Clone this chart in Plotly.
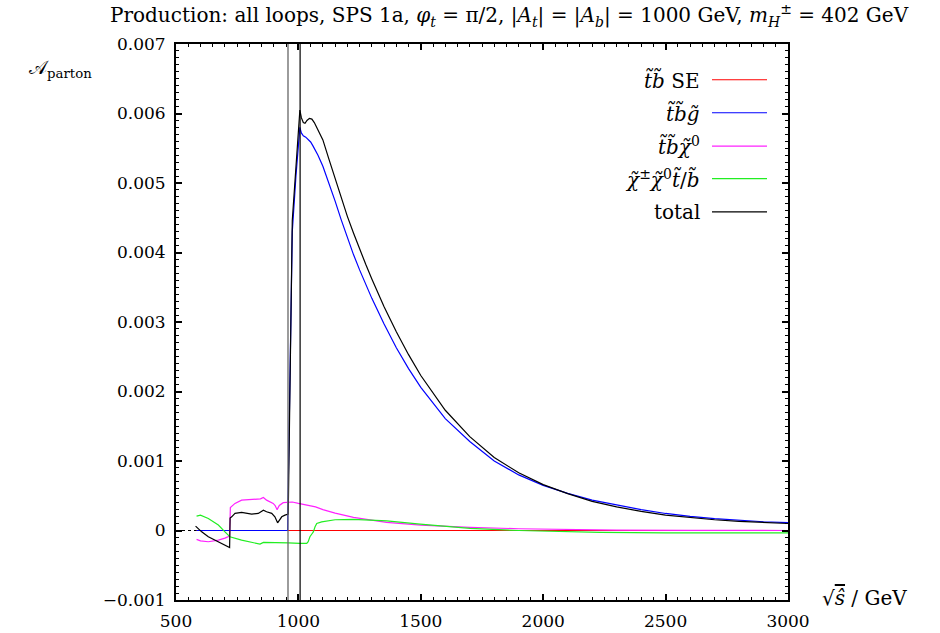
import plotly.graph_objects as go

# ---------------- data ----------------
thr1 = 957.5   # first threshold line (GeV)
thr2 = 1007.0  # second threshold line (GeV)

s_red = [584, 3000]
a_red = [0.0, 0.0]

s_blue = [584, 956, 957, 975, 990, 1006, 1012, 1020, 1030, 1040, 1050, 1060, 1080, 1100,
          1125, 1150, 1175, 1200, 1225, 1250, 1275, 1300, 1350, 1400, 1450, 1500, 1600,
          1700, 1800, 1900, 2000, 2100, 2200, 2300, 2400, 2500, 2600, 2700, 2800, 2900, 3000]
a_blue = [0.0, 0.0, 0.0003, 0.0043, 0.0051, 0.00580, 0.00572, 0.00568, 0.00566, 0.00563,
          0.00559, 0.00553, 0.00540, 0.00524, 0.00500, 0.00474, 0.00447, 0.00421, 0.00397,
          0.00375, 0.00354, 0.00334, 0.00297, 0.00263, 0.00233, 0.00206, 0.00161, 0.00128,
          0.00100, 0.00080, 0.00065, 0.000535, 0.000438, 0.000364, 0.000300, 0.000245,
          0.000202, 0.000170, 0.000145, 0.000126, 0.000112]

s_mag = [584, 600, 632, 673, 700, 713, 719, 722, 741, 768, 800, 823, 845, 857, 870, 897,
         905, 913, 922, 938, 958, 975, 1000, 1040, 1070, 1100, 1150, 1225, 1300, 1360,
         1500, 1700, 1900, 2100, 2300, 2600, 3000]
a_mag = [-0.000128, -0.00015, -0.000162, -0.000138, -0.00011, -0.00009, -0.00008, 0.00033,
         0.00039, 0.000437, 0.000445, 0.000447, 0.000455, 0.000476, 0.000437, 0.00039,
         0.00036, 0.0003, 0.00036, 0.0004, 0.000408, 0.00041, 0.00039, 0.00036, 0.00034,
         0.0003, 0.00025, 0.00019, 0.00015, 0.000118, 0.000078, 0.000045, 0.000025,
         0.000012, 0.000005, 0.000002, 0.0]

s_grn = [584, 600, 632, 673, 700, 720, 768, 822, 843, 857, 904, 958, 1006, 1034, 1040,
         1047, 1055, 1061, 1068, 1075, 1095, 1129, 1150, 1224, 1361, 1497, 1701, 1900,
         2100, 2232, 2500, 3000]
a_grn = [0.000207, 0.000221, 0.000174, 0.000078, -0.00002, -0.00009, -0.000138, -0.000186,
         -0.000196, -0.000171, -0.000171, -0.000177, -0.000186, -0.000186, -0.00016,
         -0.00009, -0.00005, -0.00002, 0.000053, 0.0001, 0.000125, 0.00015, 0.000155,
         0.00016, 0.000139, 0.000092, 0.00003, 0.0, -0.00002, -0.000028, -0.000033,
         -0.000035]

s_tot = [580, 605, 632, 659, 687, 714, 719, 721, 727.5, 741, 768, 809, 836, 857, 870, 891,
         904, 915, 932, 945, 958.5, 975, 990, 1006, 1012, 1020, 1027, 1035, 1045, 1055,
         1065, 1080, 1100, 1125, 1150, 1175, 1200, 1225, 1250, 1275, 1300, 1350, 1400,
         1450, 1500, 1600, 1700, 1800, 1900, 2000, 2100, 2200, 2300, 2400, 2500, 2600,
         2700, 2800, 2900, 3000]
a_tot = [0.000063, -0.000019, -0.00009, -0.000138, -0.000186, -0.000243, -0.000245,
         0.00018, 0.000197, 0.000246, 0.00026, 0.000236, 0.000246, 0.000293, 0.000269,
         0.000246, 0.000197, 0.000111, 0.000197, 0.000221, 0.000236, 0.00446, 0.0053,
         0.00605, 0.00594, 0.00587, 0.00586, 0.00590, 0.00593, 0.00592, 0.00587, 0.00577,
         0.00562, 0.00534, 0.00506, 0.00478, 0.00452, 0.00428, 0.00405, 0.00383, 0.00362,
         0.00322, 0.00286, 0.00253, 0.00223, 0.00173, 0.00135, 0.00105, 0.00083, 0.00066,
         0.00053, 0.00042, 0.00034, 0.000275, 0.000222, 0.000184, 0.000155, 0.000132,
         0.000115, 0.000101]

x_ticks = [500, 1000, 1500, 2000, 2500, 3000]
y_ticks = [-0.001, 0, 0.001, 0.002, 0.003, 0.004, 0.005, 0.006, 0.007]
y_ticktext = ["\u22120.001", "0", "0.001", "0.002", "0.003", "0.004", "0.005", "0.006", "0.007"]

legend_labels = ["<i>t\u0303b\u0303</i> SE", "<i>t\u0303b\u0303g\u0303</i>",
                 "<i>t\u0303b\u0303\u03c7\u0303</i><sup>0</sup>",
                 "<i>\u03c7\u0303</i><sup>\u00b1</sup><i>\u03c7\u0303</i><sup>0</sup><i>t\u0303</i>/<i>b\u0303</i>",
                 "total"]
colors = ["#ff0000", "#0000ff", "#ff22ff", "#22ee22", "#000000"]

# ---------------- layout geometry ----------------
W, H = 940, 633
L, R, T, B = 176, 152, 43.5, 33
PW, PH = W - L - R, H - T - B
FONT = "DejaVu Serif, Liberation Serif, serif"


def px(xp):
    return (xp - L) / PW


def py(yp):
    return (H - B - yp) / PH


fig = go.Figure()
series = [(s_red, a_red), (s_blue, a_blue), (s_mag, a_mag), (s_grn, a_grn), (s_tot, a_tot)]
for (sx, sy), c in zip(series, colors):
    fig.add_trace(go.Scatter(x=sx, y=sy, mode="lines", line=dict(color=c, width=1.2),
                             showlegend=False, hoverinfo="skip"))

shapes = []
# dotted zero axis
shapes.append(dict(type="line", xref="paper", yref="y", x0=0, x1=1, y0=0, y1=0,
                   line=dict(color="black", width=1, dash="dashdot"), layer="below"))
# threshold lines
shapes.append(dict(type="line", xref="x", yref="paper", x0=thr1, x1=thr1, y0=0, y1=1,
                   line=dict(color="#666666", width=1.3)))
shapes.append(dict(type="line", xref="x", yref="paper", x0=thr2, x1=thr2, y0=0, y1=1,
                   line=dict(color="black", width=1.2)))

annotations = []
row_y = [79.3, 112.3, 145.7, 178.3, 211.5]
for lab, c, yy in zip(legend_labels, colors, row_y):
    shapes.append(dict(type="line", xref="paper", yref="paper", x0=px(712), x1=px(767),
                       y0=py(yy), y1=py(yy), line=dict(color=c, width=1.2)))
    annotations.append(dict(text=lab, xref="paper", yref="paper", x=px(702), y=py(yy),
                            xanchor="right", yanchor="middle", showarrow=False,
                            font=dict(family=FONT, size=20, color="black")))

annotations.append(dict(
    text="Production: all loops, SPS 1a, <i>\u03c6<sub>t</sub></i> = \u03c0/2, "
         "|<i>A<sub>t</sub></i>| = |<i>A<sub>b</sub></i>| = 1000 GeV, "
         "<i>m<sub>H</sub></i><sup>\u00b1</sup> = 402 GeV",
    xref="paper", yref="paper", x=px(510), y=py(15), xanchor="center", yanchor="middle",
    showarrow=False, font=dict(family=FONT, size=20, color="black")))
annotations.append(dict(text="\U0001D49C<sub>parton</sub>", xref="paper", yref="paper",
                        x=px(27), y=py(68), xanchor="left", yanchor="middle", showarrow=False,
                        font=dict(family=FONT, size=19, color="black")))
annotations.append(dict(text="\u221a<span style='text-decoration:overline'><i>s\u0302</i></span> / GeV",
                        xref="paper", yref="paper", x=px(820), y=py(598), xanchor="left",
                        yanchor="middle", showarrow=False,
                        font=dict(family=FONT, size=20, color="black")))

axis_common = dict(showgrid=False, zeroline=False, showline=True, linecolor="black",
                   linewidth=2, mirror="allticks", ticks="inside", ticklen=6, tickwidth=1.5,
                   tickcolor="black", automargin=False,
                   tickfont=dict(family=FONT, size=17, color="black"))

fig.update_layout(
    width=W, height=H, autosize=False,
    margin=dict(l=L, r=R, t=T, b=B, pad=0),
    paper_bgcolor="white", plot_bgcolor="white",
    shapes=shapes, annotations=annotations,
    xaxis=dict(range=[500, 3000], tickvals=x_ticks, ticktext=[str(v) for v in x_ticks],
               minor=dict(dtick=50, ticklen=3, tickwidth=1.2, tickcolor="black", ticks="inside"),
               ticklabelstandoff=5, **axis_common),
    yaxis=dict(range=[-0.001, 0.007], tickvals=y_ticks, ticktext=y_ticktext,
               minor=dict(dtick=0.0001, ticklen=3, tickwidth=1.2, tickcolor="black", ticks="inside"),
               ticklabelstandoff=5, **axis_common),
)

fig.write_html("out.html", config={"displayModeBar": False},
               post_script="document.body.style.margin='0';")
